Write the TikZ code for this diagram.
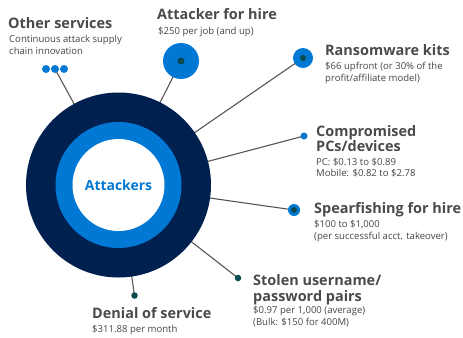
\documentclass[tikz,border=0pt]{standalone}
\usepackage{fontspec}
\setmainfont{Open Sans}
\definecolor{navy}{HTML}{002050}
\definecolor{msblue}{HTML}{0078D4}
\definecolor{teal}{HTML}{0B4A50}
\definecolor{ttl}{HTML}{4A4A4A}
\definecolor{sub}{HTML}{454545}
\definecolor{ln}{HTML}{555555}
\tikzset{
  ttlstyle/.style={anchor=base west, inner sep=0pt, align=left, text=ttl, font=\fontsize{14.5}{15.5}\selectfont\bfseries},
  substyle/.style={anchor=base west, inner sep=0pt, align=left, text=sub, font=\fontsize{9.6}{11.8}\selectfont},
  conn/.style={draw=ln, line width=1.1pt},
  bluedot/.style={circle, fill=msblue, inner sep=0pt, minimum size=#1},
  tealdot/.style={circle, fill=teal, inner sep=0pt, minimum size=#1},
}
\begin{document}
\begin{tikzpicture}[x=1bp,y=-1bp]
\useasboundingbox (0,0) rectangle (463,337);
\coordinate (ctr) at (118.5,185);
% connector end points
\coordinate (os2) at (55,69);
\coordinate (afh) at (181,61);
\coordinate (rk) at (303,58);
\coordinate (pc) at (304,136);
\coordinate (sp) at (294,210);
\coordinate (st) at (238,278);
\coordinate (dos) at (134.5,295.5);
% connectors
\draw[conn] (os2) -- (ctr);
\draw[conn] (afh) -- (ctr);
\draw[conn] (rk) -- (ctr);
\draw[conn] (pc) -- (ctr);
\draw[conn] (sp) -- (ctr);
\draw[conn] (st) -- (ctr);
\draw[conn] (dos) -- (ctr);
% dots
\node[bluedot=8bp] (os1d) at (46,69) {};
\node[bluedot=8bp] (os2d) at (55,69) {};
\node[bluedot=8bp] (os3d) at (64,69) {};
\node[bluedot=36bp] (afhB) at (afh) {};
\node[tealdot=7bp] (afhd) at (afh) {};
\node[bluedot=20bp] (rkB) at (rk) {};
\node[tealdot=6bp] (rkd) at (rk) {};
\node[bluedot=7bp] (pcd) at (pc) {};
\node[bluedot=12bp] (spB) at (sp) {};
\node[tealdot=6bp] (spd) at (sp) {};
\node[tealdot=6.5bp] (std) at (st) {};
\node[tealdot=6.5bp] (dosd) at (dos) {};
% rings
\fill[navy] (ctr) circle (92.5bp);
\fill[msblue] (ctr) circle (63bp);
\fill[white] (ctr) circle (46bp);
\node[text=msblue, font=\fontsize{14}{16}\selectfont\bfseries] (att) at (ctr) {Attackers};
% labels (base = baseline of last line)
\node[ttlstyle] (t1) at (8,28) {Other services};
\node[substyle] (s1) at (9,54) {Continuous attack supply\\chain innovation};
\node[ttlstyle] (t2) at (157,19.5) {Attacker for hire};
\node[substyle] (s2) at (158,34) {\$250 per job (and up)};
\node[ttlstyle] (t3) at (325,55) {Ransomware kits};
\node[substyle] (s3) at (325,81.5) {\$66 upfront (or 30\% of the\\profit/affiliate model)};
\node[ttlstyle] (t4) at (316,151.7) {Compromised\\PCs/devices};
\node[substyle, font=\fontsize{9.6}{11}\selectfont] (s4) at (316,176.7) {PC: \$0.13 to \$0.89\\Mobile: \$0.82 to \$2.78};
\node[ttlstyle] (t5) at (314,213) {Spearfishing for hire};
\node[substyle] (s5) at (314,239) {\$100 to \$1,000\\(per successful acct. takeover)};
\node[ttlstyle] (t6) at (253,301) {Stolen username/\\password pairs};
\node[substyle] (s6) at (253,325) {\$0.97 per 1,000 (average)\\(Bulk: \$150 for 400M)};
\node[ttlstyle] (t7) at (92,318.5) {Denial of service};
\node[substyle] (s7) at (92,332) {\$311.88 per month};
\end{tikzpicture}
\end{document}
